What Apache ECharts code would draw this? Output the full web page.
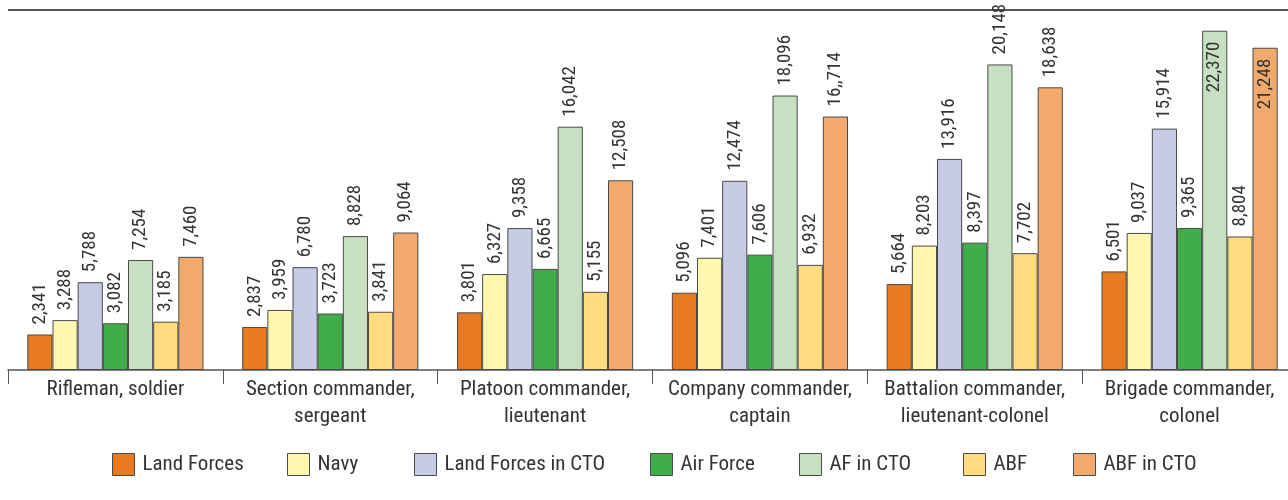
<!DOCTYPE html>
<html>
<head>
<meta charset="utf-8">
<script src="https://cdn.jsdelivr.net/npm/echarts@6/dist/echarts.min.js"></script>
<style>
html,body{margin:0;padding:0;background:#fff;overflow:hidden;width:1288px;height:500px;}
#chart{width:1297px;height:500px;}
</style>
</head>
<body>
<div id="chart"></div>
<script>
const categories = [
  "Rifleman, soldier",
  "Section commander,\nsergeant",
  "Platoon commander,\nlieutenant",
  "Company commander,\ncaptain",
  "Battalion commander,\nlieutenant-colonel",
  "Brigade commander,\ncolonel"
];
const seriesNames = ["Land Forces", "Navy", "Land Forces in CTO", "Air Force", "AF in CTO", "ABF", "ABF in CTO"];
const landForces      = [2341, 2837, 3801, 5096, 5664, 6501];
const navy            = [3288, 3959, 6327, 7401, 8203, 9037];
const landForcesCTO   = [5788, 6780, 9358, 12474, 13916, 15914];
const airForce        = [3082, 3723, 6665, 7606, 8397, 9365];
const afCTO           = [7254, 8828, 16042, 18096, 20148, 22370];
const abf             = [3185, 3841, 5155, 6932, 7702, 8804];
const abfCTO          = [7460, 9064, 12508, 16714, 18638, 21248];
// label text as printed in the source (includes its typo)
const labelOverrides = { "ABF in CTO": { 3: "16,,714" } };

const seriesValues = [landForces, navy, landForcesCTO, airForce, afCTO, abf, abfCTO];
const colors = ["#E87A22", "#FFF7B0", "#C8CBE6", "#40AD4A", "#C8E0C2", "#FFDD7E", "#F2A96C"];
const legendLeft = [112, 287, 414, 650, 799, 963, 1073];

const FONT = '"Liberation Sans Narrow", "Roboto Condensed", "DejaVu Sans Condensed", sans-serif';
const fmt = v => v.toLocaleString('en-US');

const chart = echarts.init(document.getElementById('chart'));
const series = seriesNames.map((name, si) => ({
  name,
  type: 'bar',
  barGap: '0%',
  barCategoryGap: '18%',
  itemStyle: { color: colors[si], borderColor: '#4a4a4a', borderWidth: 1 },
  label: {
    show: true,
    position: 'top',
    rotate: 90,
    align: 'left',
    verticalAlign: 'middle',
    distance: 10,
    fontFamily: FONT,
    fontSize: 19,
    color: '#333',
    formatter: p => (labelOverrides[name] && labelOverrides[name][p.dataIndex]) || fmt(p.value)
  },
  data: seriesValues[si].map(v => v > 21000 ? {
    value: v,
    label: { position: 'insideTop', align: 'right', distance: 11 }
  } : v)
}));

const legends = seriesNames.map((name, i) => ({
  top: 453,
  left: legendLeft[i],
  padding: 0,
  itemWidth: 22,
  itemHeight: 22,
  icon: 'rect',
  itemStyle: { borderColor: '#4a4a4a', borderWidth: 1 },
  textStyle: { fontFamily: FONT, fontSize: 21, color: '#333', padding: [0, 0, 0, 3] },
  data: [name]
}));

chart.setOption({
  animation: false,
  textStyle: { fontFamily: FONT },
  grid: { left: 8, right: 0, top: 6, bottom: 130, containLabel: false },
  legend: legends,
  xAxis: {
    type: 'category',
    data: categories,
    axisLine: { lineStyle: { color: '#555', width: 1.5 } },
    axisTick: { show: true, length: 14, lineStyle: { color: '#555', width: 1 } },
    axisLabel: { fontFamily: FONT, fontSize: 21, color: '#333', margin: 6, lineHeight: 27, interval: 0 }
  },
  yAxis: {
    type: 'value',
    min: 0,
    max: 24000,
    show: false,
    splitLine: { show: false }
  },
  graphic: [{
    type: 'line',
    shape: { x1: 8, y1: 10, x2: 1297, y2: 10 },
    style: { stroke: '#555', lineWidth: 2 }
  }],
  series
});
</script>
</body>
</html>
